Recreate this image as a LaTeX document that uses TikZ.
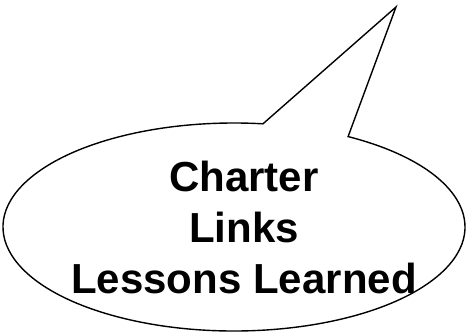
\documentclass[tikz,border=0pt]{standalone}
\usepackage{fontspec}
\setmainfont{Liberation Sans}
\usetikzlibrary{calc}
\begin{document}
\begin{tikzpicture}[x=1pt,y=1pt,
  bubble/.style={draw=black,line width=1.4pt,fill=white,line join=miter},
  label/.style={font=\bfseries\fontsize{42}{51}\selectfont,align=center,inner sep=0pt}]
\useasboundingbox (0,0) rectangle (466,335);
\coordinate (c) at (234,108);
\coordinate (tip) at (396,328);
\coordinate (rj) at ($(c)+(60.4:231 and 104)$);
\draw[bubble] (tip) -- (rj) arc[start angle=60.4,delta angle=-337.6,x radius=231,y radius=104] -- cycle;
\node[label,anchor=base] (t) at (244,42) {Charter\\Links\\Lessons Learned};
\end{tikzpicture}
\end{document}
